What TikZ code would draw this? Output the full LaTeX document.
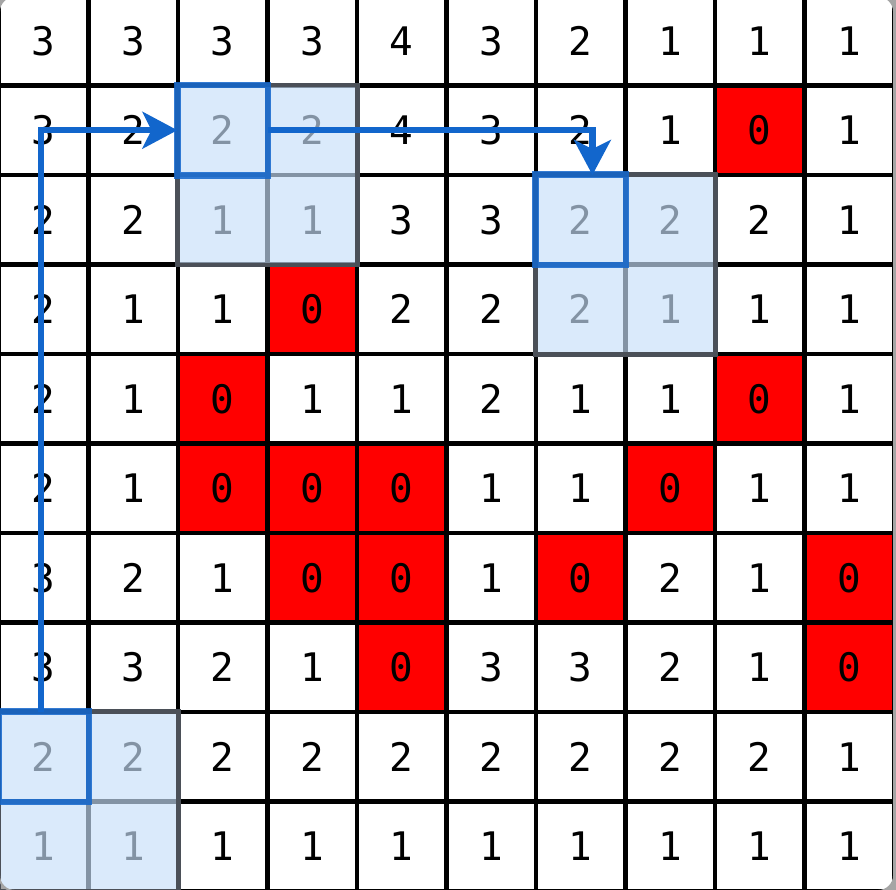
\documentclass[tikz,border=0pt]{standalone}
\usepackage{fontspec}
\setmonofont{DejaVu Sans Mono}
\usetikzlibrary{arrows.meta}
\definecolor{zero}{RGB}{255,0,0}
\definecolor{winoverlay}{RGB}{200,224,250}
\definecolor{winedge}{RGB}{75,80,88}
\definecolor{pathblue}{RGB}{18,102,204}
\definecolor{framegrey}{RGB}{165,165,165}
\begin{document}
\begin{tikzpicture}[x=1cm,y=-1cm,
  cell/.style={minimum size=1cm,inner sep=0pt,fill=white,
    font=\ttfamily\fontsize{12.5}{12.5}\selectfont},
  zerocell/.style={cell,fill=zero},
  gridline/.style={line width=1.3pt,black},
  window/.style={fill=winoverlay,fill opacity=0.66},
  windowedge/.style={draw=winedge,line width=1.4pt},
  focus/.style={draw=pathblue,draw opacity=0.85,line width=2.1pt},
  patharrow/.style={draw=pathblue,line width=2pt,
    -{Stealth[length=3.9mm,width=4.1mm,inset=1mm]}},
  frame/.style={draw=framegrey,line width=0.6pt,rounded corners=5pt}]

\useasboundingbox (0.011,0.045) rectangle (10.022,9.986);
\fill[framegrey] (0.011,0.045) rectangle (10.022,9.986);

\begin{scope}
  \clip[rounded corners=5pt] (0,0) rectangle (10,10);
  \foreach \r/\row in {
    0/{3,3,3,3,4,3,2,1,1,1},
    1/{3,2,2,2,4,3,2,1,0,1},
    2/{2,2,1,1,3,3,2,2,2,1},
    3/{2,1,1,0,2,2,2,1,1,1},
    4/{2,1,0,1,1,2,1,1,0,1},
    5/{2,1,0,0,0,1,1,0,1,1},
    6/{3,2,1,0,0,1,0,2,1,0},
    7/{3,3,2,1,0,3,3,2,1,0},
    8/{2,2,2,2,2,2,2,2,2,1},
    9/{1,1,1,1,1,1,1,1,1,1}} {
    \foreach \v [count=\c from 0] in \row {
      \ifnum\v=0
        \node[zerocell] (n-\r-\c) at (\c+0.5,\r+0.5) {\v};
      \else
        \node[cell] (n-\r-\c) at (\c+0.5,\r+0.5) {\v};
      \fi
    }
  }
  \draw[gridline] (0,0) grid (10,10);
  \fill[window] (n-1-2.north west) rectangle (n-2-3.south east);
  \fill[window] (n-2-6.north west) rectangle (n-3-7.south east);
  \fill[window] (n-8-0.north west) rectangle (n-9-1.south east);
\end{scope}

\draw[windowedge] (n-1-2.north west) rectangle (n-2-3.south east);
\draw[windowedge] (n-2-6.north west) rectangle (n-3-7.south east);
\draw[windowedge] (n-8-0.north west) rectangle (n-9-1.south east);

\draw[focus] (n-1-2.north west) rectangle (n-1-2.south east);
\draw[focus] (n-2-6.north west) rectangle (n-2-6.south east);
\draw[focus] (n-8-0.north west) rectangle (n-8-0.south east);

\coordinate (start) at (0.47,8);
\coordinate (drop) at (6.63,2);
\draw[patharrow] (start) |- (n-1-2.west);
\draw[patharrow] (n-1-2.east) -| (drop);

\draw[frame] (0,0) rectangle (10,10);
\end{tikzpicture}
\end{document}
